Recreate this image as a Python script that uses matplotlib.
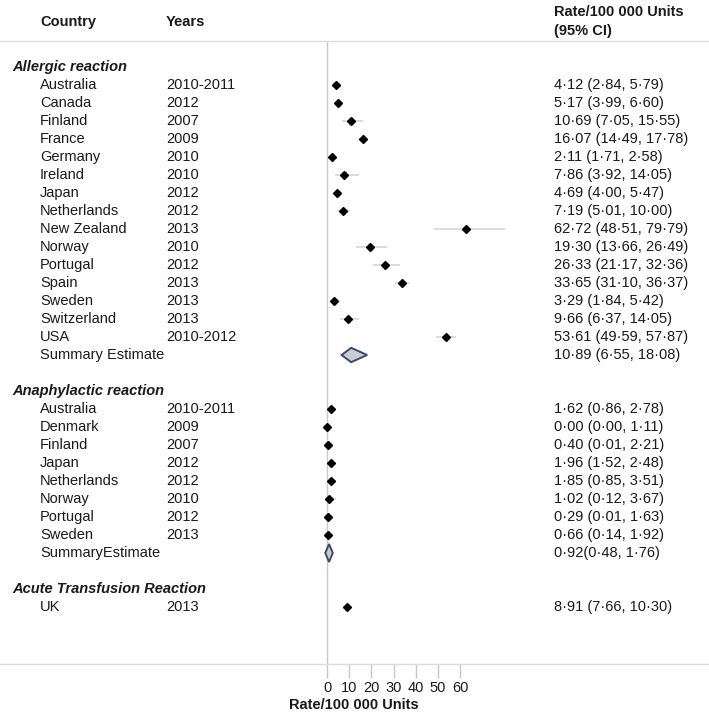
import matplotlib
matplotlib.use("Agg")
import matplotlib.pyplot as plt
import matplotlib.patches as mpatches
import matplotlib.transforms as mtransforms

plt.rcParams['font.family'] = ['Liberation Sans', 'DejaVu Sans']

# data
allergic_countries = ['Australia', 'Canada', 'Finland', 'France', 'Germany', 'Ireland', 'Japan',
                      'Netherlands', 'New Zealand', 'Norway', 'Portugal', 'Spain', 'Sweden',
                      'Switzerland', 'USA']
allergic_years = ['2010-2011', '2012', '2007', '2009', '2010', '2010', '2012', '2012', '2013',
                  '2010', '2012', '2013', '2013', '2013', '2010-2012']
allergic_rate = [4.12, 5.17, 10.69, 16.07, 2.11, 7.86, 4.69, 7.19, 62.72, 19.30, 26.33, 33.65, 3.29, 9.66, 53.61]
allergic_lo = [2.84, 3.99, 7.05, 14.49, 1.71, 3.92, 4.00, 5.01, 48.51, 13.66, 21.17, 31.10, 1.84, 6.37, 49.59]
allergic_hi = [5.79, 6.60, 15.55, 17.78, 2.58, 14.05, 5.47, 10.00, 79.79, 26.49, 32.36, 36.37, 5.42, 14.05, 57.87]
allergic_summary = [10.89, 6.55, 18.08]

anaph_countries = ['Australia', 'Denmark', 'Finland', 'Japan', 'Netherlands', 'Norway', 'Portugal', 'Sweden']
anaph_years = ['2010-2011', '2009', '2007', '2012', '2012', '2010', '2012', '2013']
anaph_rate = [1.62, 0.00, 0.40, 1.96, 1.85, 1.02, 0.29, 0.66]
anaph_lo = [0.86, 0.00, 0.01, 1.52, 0.85, 0.12, 0.01, 0.14]
anaph_hi = [2.78, 1.11, 2.21, 2.48, 3.51, 3.67, 1.63, 1.92]
anaph_summary = [0.92, 0.48, 1.76]

acute_countries = ['UK']
acute_years = ['2013']
acute_rate = [8.91]
acute_lo = [7.66]
acute_hi = [10.30]

xticks = [0, 10, 20, 30, 40, 50, 60]

W, H = 709, 716
fig = plt.figure(figsize=(W / 100, H / 100), dpi=100)
ax = fig.add_axes([0, 1 - 664 / H, 1, (664 - 41) / H])

# x: 0 at pixel 327, 10 units = 22.2 px
px_per_unit = 2.22
ax.set_xlim(-327 / px_per_unit, (W - 327) / px_per_unit)
ax.set_ylim(597 / 18, -26 / 18)

trans = mtransforms.blended_transform_factory(ax.transAxes, ax.transData)
txt_color = '#1a1a1a'
fs = 10.5


def fmt(r, lo, hi, sep=' '):
    return (f"{r:.2f}{sep}({lo:.2f}, {hi:.2f})").replace('.', '\u00b7')


def draw_study(row, country, year, r, lo, hi):
    ax.plot([lo, hi], [row, row], color='#d9d9d9', lw=1.3, zorder=2)
    ax.plot([r], [row], marker='D', color='black', markersize=4, zorder=3)
    ax.text(40 / W, row, country, transform=trans, fontsize=fs, color=txt_color, va='center')
    ax.text(166 / W, row, year, transform=trans, fontsize=fs, color=txt_color, va='center')
    ax.text(554 / W, row, fmt(r, lo, hi), transform=trans, fontsize=fs, color=txt_color, va='center')


def draw_header(row, label):
    ax.text(12 / W, row, label, transform=trans, fontsize=fs, color=txt_color, va='center',
            fontweight='bold', fontstyle='italic')


def draw_summary(row, label, est, lo, hi, half_h, sep):
    # the diamond keeps a minimum width so that it stays visible
    left = min(lo, est - 1.7)
    right = max(hi, est + 1.7)
    poly = mpatches.Polygon([[left, row], [est, row - half_h], [right, row], [est, row + half_h]],
                            closed=True, facecolor='#c8ccd3', edgecolor='#3b4a6b', lw=1.4, zorder=3)
    ax.add_patch(poly)
    ax.text(40 / W, row, label, transform=trans, fontsize=fs, color=txt_color, va='center')
    ax.text(554 / W, row, fmt(est, lo, hi, sep), transform=trans, fontsize=fs, color=txt_color, va='center')


row = 0
draw_header(row, 'Allergic reaction')
for i in range(len(allergic_countries)):
    row += 1
    draw_study(row, allergic_countries[i], allergic_years[i], allergic_rate[i], allergic_lo[i], allergic_hi[i])
row += 1
draw_summary(row, 'Summary Estimate', allergic_summary[0], allergic_summary[1], allergic_summary[2], 0.4, ' ')

row += 2
draw_header(row, 'Anaphylactic reaction')
for i in range(len(anaph_countries)):
    row += 1
    draw_study(row, anaph_countries[i], anaph_years[i], anaph_rate[i], anaph_lo[i], anaph_hi[i])
row += 1
draw_summary(row, 'SummaryEstimate', anaph_summary[0], anaph_summary[1], anaph_summary[2], 0.5, '')

row += 2
draw_header(row, 'Acute Transfusion Reaction')
for i in range(len(acute_countries)):
    row += 1
    draw_study(row, acute_countries[i], acute_years[i], acute_rate[i], acute_lo[i], acute_hi[i])

# reference line at zero
ax.axvline(0, color='#c8c8c8', lw=1, zorder=1)

# spines and ticks
for s in ['left', 'right']:
    ax.spines[s].set_visible(False)
for s in ['top', 'bottom']:
    ax.spines[s].set_color('#dcdcdc')
    ax.spines[s].set_linewidth(1)
ax.set_yticks([])
ax.set_xticks(xticks)
ax.set_xticklabels([str(t) for t in xticks], fontsize=fs, color=txt_color)
ax.tick_params(axis='x', length=10, color='#c8c8c8', width=1, pad=2)

# column headers
fig.text(40 / W, 1 - 22 / H, 'Country', fontsize=fs, fontweight='bold', color=txt_color, va='center')
fig.text(166 / W, 1 - 22 / H, 'Years', fontsize=fs, fontweight='bold', color=txt_color, va='center')
fig.text(554 / W, 1 - 12 / H, 'Rate/100 000 Units', fontsize=fs, fontweight='bold', color=txt_color, va='center')
fig.text(554 / W, 1 - 31 / H, '(95% CI)', fontsize=fs, fontweight='bold', color=txt_color, va='center')
fig.text(354 / W, 1 - 705 / H, 'Rate/100 000 Units', fontsize=fs, fontweight='bold', color=txt_color,
         va='center', ha='center')

fig.savefig('out.png', dpi=100)
